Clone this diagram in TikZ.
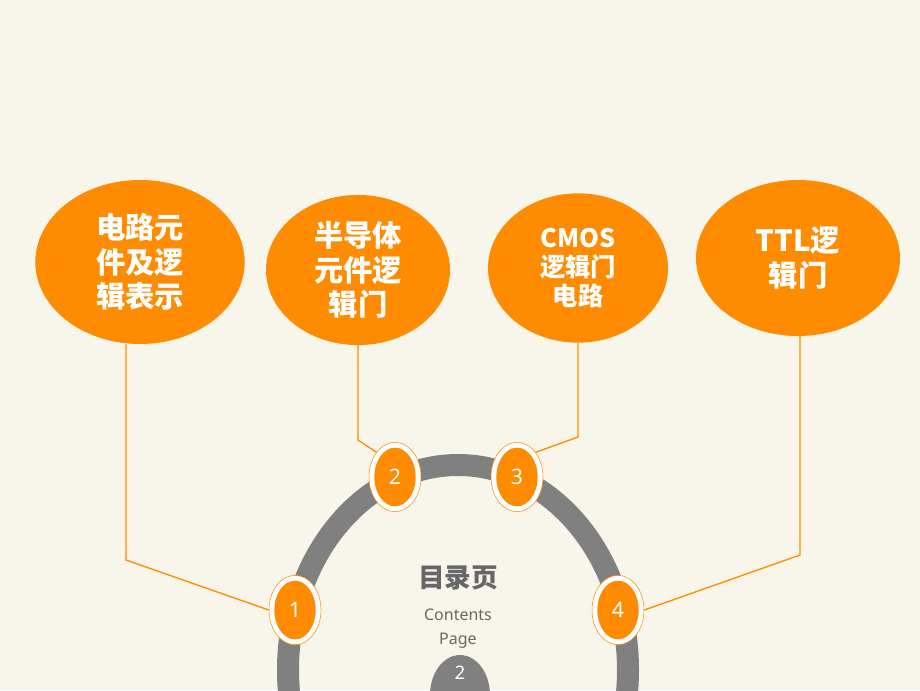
\documentclass[tikz,border=0pt]{standalone}
\usepackage{fontspec}
\setmainfont{Noto Sans}
\newfontfamily\cjk{Noto Sans CJK SC}
\definecolor{bgcream}{HTML}{F8F6EA}
\definecolor{topicorange}{HTML}{FF8C00}
\definecolor{archgray}{HTML}{808080}
\tikzset{
  topic/.style={ellipse, fill=topicorange, text=white, align=center,
    font=\cjk\bfseries\fontsize{22}{26}\selectfont},
  marker/.style={ellipse, fill=white, draw=topicorange, line width=0.4pt,
    minimum width=39pt, minimum height=52pt},
  dot/.style={ellipse, fill=topicorange, text=white, minimum width=31pt,
    minimum height=44pt, font=\bfseries\fontsize{16}{16}\selectfont},
  leader/.style={draw=topicorange, line width=1pt}
}
\usetikzlibrary{shapes.geometric}
\begin{document}
\begin{tikzpicture}[x=0.75pt,y=-0.75pt]
  \fill[bgcream] (0,0) rectangle (920,690);
  \useasboundingbox (0,0) rectangle (920,690);

  % arch
  \begin{scope}
    \clip (0,0) rectangle (920,690);
    \draw[archgray, line width=16.5pt] (458,670) ellipse [x radius=170, y radius=205];
    \fill[archgray] (460,695) ellipse [x radius=30, y radius=40];
  \end{scope}
  \node[text=white, font=\fontsize{14}{14}\selectfont] (pagenum) at (460,673) {2};

  % title
  \node[text=archgray!80!black, font=\cjk\bfseries\fontsize{20}{24}\selectfont] (title) at (458,578) {目录页};
  \node[text=archgray!80!black, align=center, font=\fontsize{12}{18}\selectfont] (subtitle) at (458,629) {Contents\\Page};

  % topics
  \node[topic, minimum width=157pt, minimum height=123pt] (t1) at (140,262) {电路元\\件及逻\\辑表示};
  \node[topic, minimum width=138pt, minimum height=112pt] (t2) at (358,270) {半导体\\元件逻\\辑门};
  \node[topic, minimum width=135pt, minimum height=112pt, font=\cjk\bfseries\fontsize{19}{22}\selectfont] (t3) at (578,268) {CMOS\\逻辑门\\电路};
  \node[topic, minimum width=153pt, minimum height=117pt] (t4) at (798,258) {TTL逻\\辑门};

  % markers
  \foreach \n/\x/\y in {1/295/610, 2/395/477, 3/517/477, 4/618/610}{
    \node[marker] (m\n) at (\x,\y) {};
    \node[dot] (d\n) at (\x,\y) {\n};
  }

  % leaders
  \coordinate (c1) at (126,560);
  \coordinate (c2) at (358,440);
  \coordinate (c3) at (578,437);
  \coordinate (c4) at (800,555);
  \draw[leader] (126,344) -- (c1) -- (m1.west);
  \draw[leader] (358,345) -- (c2) -- (m2.north west);
  \draw[leader] (578,343) -- (c3) -- (m3.north east);
  \draw[leader] (800,336) -- (c4) -- (m4.east);
\end{tikzpicture}
\end{document}
